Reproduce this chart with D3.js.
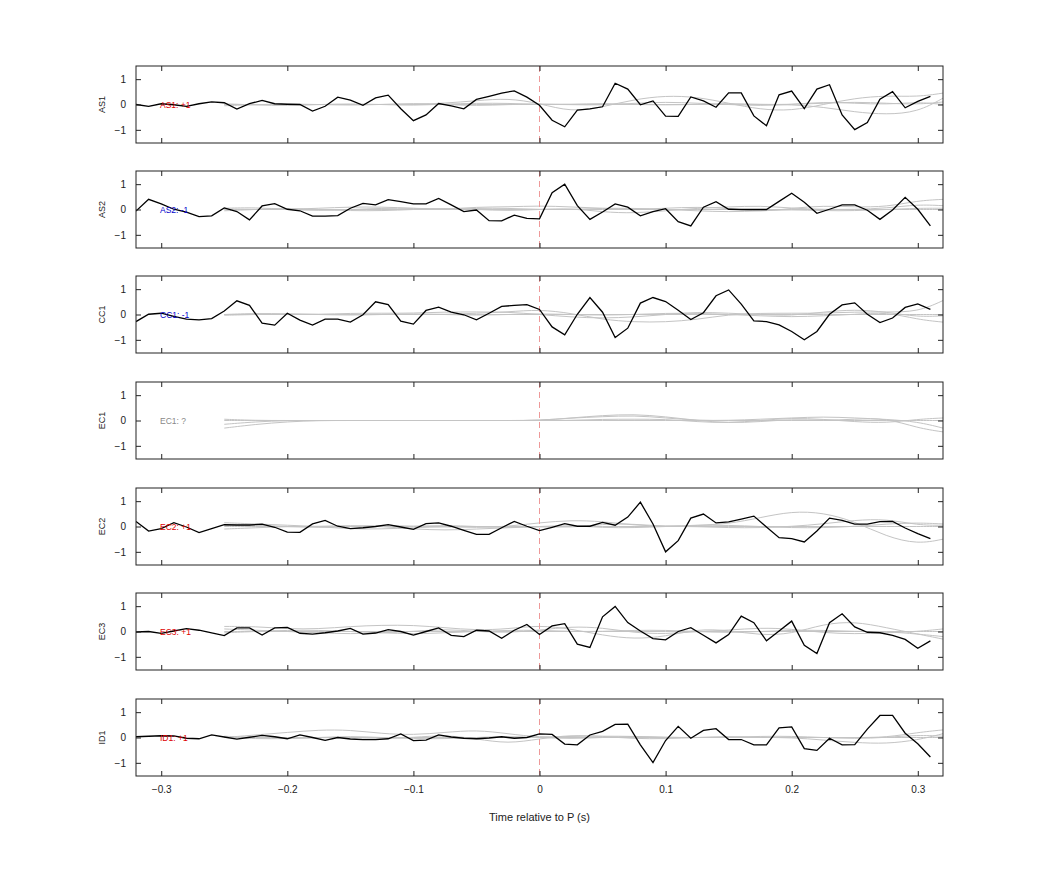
<!DOCTYPE html>
<html><head><meta charset="utf-8">
<script src="https://cdn.jsdelivr.net/npm/d3@7"></script>
<style>body{margin:0;background:#fff}svg{font-family:"Liberation Sans",Arial,sans-serif}</style>
</head><body><svg id="c" width="1042" height="875"></svg>
<script>
const stations = ["AS1","AS2","CC1","EC1","EC2","EC3","ID1"];
const polarity = ["AS1: +1","AS2: -1","CC1: -1","EC1: ?","EC2: +1","EC3: +1","ID1: +1"];
const polColor = ["#d00","#00c","#00c","#888","#d00","#d00","#d00"];
const tStart = -0.32, tStep = 0.01;
const black = [
[0,-0.07,0.03,-0.01,-0.07,0.03,0.1,0.07,-0.18,0.03,0.16,0.03,0.01,0,-0.26,-0.07,0.29,0.17,-0.03,0.26,0.37,-0.17,-0.64,-0.41,0.04,-0.05,-0.17,0.2,0.32,0.45,0.54,0.29,-0.03,-0.62,-0.88,-0.22,-0.17,-0.09,0.84,0.61,-0.01,0.14,-0.46,-0.47,0.3,0.14,-0.11,0.46,0.46,-0.45,-0.84,0.38,0.53,-0.16,0.61,0.78,-0.41,-0.99,-0.71,0.21,0.51,-0.13,0.12,0.32],
[-0.06,0.4,0.22,0.01,-0.1,-0.28,-0.25,0.06,-0.08,-0.41,0.14,0.23,0.01,-0.05,-0.26,-0.26,-0.24,0.05,0.24,0.18,0.39,0.31,0.22,0.22,0.44,0.18,-0.08,-0.02,-0.44,-0.45,-0.22,-0.35,-0.37,0.66,1.0,0.15,-0.39,-0.1,0.22,0.09,-0.25,-0.08,0.03,-0.48,-0.65,0.09,0.31,0.01,0,0,0,0.32,0.64,0.29,-0.15,0.01,0.18,0.18,-0.03,-0.39,-0.02,0.48,0.01,-0.65],
[-0.28,0.01,0.05,-0.07,-0.18,-0.21,-0.16,0.14,0.54,0.36,-0.34,-0.42,0.05,-0.22,-0.42,-0.18,-0.18,-0.3,-0.01,0.5,0.39,-0.26,-0.38,0.16,0.29,0.09,-0.01,-0.21,0.05,0.32,0.36,0.39,0.2,-0.49,-0.8,0.01,0.67,0.09,-0.91,-0.54,0.45,0.67,0.51,0.17,-0.2,0.07,0.74,0.97,0.41,-0.25,-0.28,-0.41,-0.67,-1.0,-0.67,0.01,0.38,0.46,0.01,-0.32,-0.14,0.28,0.42,0.2],
[],
[0.2,-0.18,-0.08,0.15,-0.02,-0.24,-0.08,0.07,0.06,0.06,0.09,-0.03,-0.22,-0.23,0.1,0.24,0.01,-0.08,-0.05,0,0.07,-0.02,-0.11,0.11,0.14,0.01,-0.15,-0.31,-0.31,-0.05,0.2,0.01,-0.16,-0.03,0.11,0.01,0.01,0.16,0.05,0.37,0.96,0.1,-1.0,-0.56,0.33,0.49,0.14,0.18,0.29,0.41,-0.02,-0.44,-0.48,-0.61,-0.18,0.33,0.24,0.09,0.09,0.19,0.2,-0.06,-0.28,-0.48],
[-0.02,0,-0.07,0.02,0.11,0.05,-0.05,-0.16,0.14,0.14,-0.14,0.14,0.16,-0.07,-0.1,-0.05,0.02,0.12,-0.1,-0.06,0.07,0,-0.14,0,0.14,-0.15,-0.2,0.05,0.02,-0.27,0.05,0.28,-0.12,0.22,0.31,-0.5,-0.63,0.58,0.99,0.35,0.02,-0.28,-0.33,0,0.15,-0.15,-0.45,-0.12,0.61,0.35,-0.37,0.02,0.41,-0.54,-0.87,0.35,0.7,0.18,-0.03,-0.05,-0.15,-0.31,-0.66,-0.37],
[0.03,0.05,0.07,0.06,-0.03,-0.05,0.1,0.02,-0.06,0.01,0.08,0.03,-0.05,0.1,0,-0.11,0,-0.06,-0.08,-0.08,-0.05,0.14,-0.12,-0.1,0.1,0.02,-0.03,-0.05,-0.02,0.03,-0.03,0,0.14,0.12,-0.26,-0.29,0.1,0.24,0.52,0.53,-0.29,-0.99,-0.12,0.44,-0.03,0.28,0.35,-0.08,-0.08,-0.29,-0.29,0.38,0.42,-0.44,-0.51,-0.03,-0.29,-0.28,0.33,0.87,0.87,0.17,-0.25,-0.77]
];
const grayT = [-0.25,-0.225,-0.2,-0.175,-0.15,-0.125,-0.1,-0.075,-0.05,-0.025,0,0.025,0.05,0.075,0.1,0.125,0.15,0.175,0.2,0.225,0.25,0.275,0.3,0.32];
const gray = [
 [[0,0,0,0,0,0,0,0.05,0.15,0.25,0.05,-0.3,-0.1,0.2,0.35,0.3,0.05,-0.2,-0.25,0,0.25,0.35,0.3,0.45],
  [0,0,0,0,0,0,0,0,0,0,0,0,0,0,0,0,0,0,0,-0.1,-0.3,-0.4,-0.3,0.25],
  [-0.05,0,0.02,0,-0.03,0,0.05,0,-0.05,0,0.02,0,0.05,0,-0.02,0,0.05,0,0,0.05,0.1,0.05,0,0.1],
  [0.03,-0.02,-0.05,0,0.03,0,-0.04,0.02,0.05,0.05,0,0,-0.03,0.05,0.1,0.05,0,-0.05,0,0.1,0.05,0,0.1,0]],
 [[0.02,0,0,0.05,0.1,0.1,0.05,0,0.1,0.1,0.15,0.1,0.05,0,0.05,0.1,0.05,-0.1,0.05,0.15,0.1,0.1,0.35,0.4],
  [0,0,0,0,0,0,0,0,0,0,0,0,0,0,0,0,0,0,0,0,0,0,0,0],
  [-0.05,0,0.05,0,-0.05,-0.05,0,0.05,0,-0.05,0,0.05,-0.1,-0.15,-0.05,0.05,0.1,0.15,0.05,0,0,0.05,0.2,0.15],
  [0.05,0.08,0,-0.05,0,0.05,0.05,0,0.05,0.05,0,0,0.05,0.05,0,-0.05,-0.1,-0.05,0,-0.05,-0.05,0,0.05,0.05]],
 [[0,0,0,0,0,0,0,0,0.05,0.1,0.2,0.05,-0.2,-0.3,-0.3,-0.2,0,0.05,0.05,0.05,0.1,0.1,0.1,0.55],
  [0,0.05,0.02,0,0.05,0.05,0.05,0.1,0.1,0.1,0,-0.1,-0.15,-0.1,0,0.1,0.05,0,-0.05,0.1,0.2,0.1,-0.1,-0.05],
  [0,0,0,0,0,0,0,0,0,0,0,0,0,0,0,0,0,0,0,0,0,0,0,0],
  [-0.03,0,0.03,0,-0.03,0,0.03,0,-0.03,0,0.03,0,-0.03,0,0.05,0.05,0,-0.05,-0.1,-0.05,0,0.1,-0.2,-0.3]],
 [[-0.3,-0.15,-0.05,0,0,0,0,0,0,0,0,0.1,0.15,0.2,0.1,0,0,0.05,0.1,0.15,0.1,0.05,-0.05,-0.3],
  [0,0,0,0,0,0,0,0,0,0,0,0,0,0,0,0,0,0,0,0,0,0,0,0],
  [-0.15,-0.05,0,0,0,0,0,0,0,0,0,0.1,0.2,0.25,0.15,0,-0.1,-0.05,0.05,0,0.05,0.1,-0.3,-0.45],
  [0.05,0,0,0,0,0,0,0,0,0,0,0,0.05,0.05,0.05,-0.05,-0.1,0,0.1,0.05,-0.05,-0.1,0.05,0.1]],
 [[0.15,0.1,0.05,0,-0.1,-0.1,-0.05,0,-0.05,0,0.15,0.25,0.2,0.05,0,0.05,0.1,0.35,0.6,0.55,0.2,-0.4,-0.7,-0.5],
  [0,0,0,0,0,0,0,0,0,0,0,0,0,0,0,0,0,0,0,0,0,0,0,0],
  [-0.1,-0.05,0,0,0.05,0,-0.1,-0.15,-0.1,-0.05,0,-0.05,0.1,0.1,0,0,-0.05,-0.05,0,0.1,0.25,0.3,0.05,0.05],
  [0.05,0.05,0,-0.05,0,0.05,0,0.05,0,-0.05,0,0.05,-0.05,-0.05,0,0.05,0.05,0,-0.05,-0.05,0,0.1,0.15,0.1]],
 [[0.2,0.2,0.1,0.1,0.2,0.25,0.25,0.15,0.05,0.1,0.25,0.1,-0.15,-0.3,-0.2,0.1,0.05,-0.15,-0.1,0.3,0.4,0.15,-0.1,-0.3],
  [0,0,0,0,0,0,0,0,0,0,0,0,0,0,0,0,0,0,0,0,0,0,0,0],
  [0.1,0.05,0,-0.05,-0.1,-0.05,0,0.1,0,-0.05,0.05,0.2,0.15,-0.05,-0.1,0,0.05,0.15,0.1,-0.05,-0.1,-0.05,0,0.1],
  [-0.05,0,0.05,0.05,0,-0.05,-0.1,-0.05,0,0.05,0.05,0,0,0.05,0.05,0,-0.05,0,0.05,0.05,0,0,-0.1,-0.2]],
 [[0,0.1,0.2,0.3,0.3,0.15,0.1,0.2,0.3,0.15,0,0.05,0.05,0.05,0,0,0,0,0,0,0,0,0.2,0.3],
  [0,0,0,0,0,0,0,0,0,0,0,0,0,0,0,0,0,0,0,0,0,0,0,0],
  [0,-0.05,-0.05,0,0,-0.05,0,0.1,-0.05,-0.25,-0.05,0.1,0.05,-0.05,-0.05,0,0.05,0,0,-0.1,-0.2,-0.25,-0.1,0.15],
  [0.05,0,-0.05,0,0.05,0,-0.05,-0.05,0,0.05,0,-0.05,0,0.05,0,0,0,0.05,0.05,0,-0.05,0,0.1,0.05]]
];
const xTicks = [-0.3,-0.2,-0.1,0,0.1,0.2,0.3];
const yTicks = [-1,0,1];

const svg = d3.select("#c");
const L = 136, R = 943, H = 77;
const tops = [66,171,276,382,488,593,699];
const x = d3.scaleLinear().domain([-0.32,0.32]).range([L,R]);
const line = (yS) => d3.line().x(d => x(d[0])).y(d => yS(d[1]));

stations.forEach((st, i) => {
  const top = tops[i];
  const y = d3.scaleLinear().domain([-1.52,1.52]).range([top+H, top]);
  const g = svg.append("g");
  const clipId = "clip"+i;
  svg.append("clipPath").attr("id", clipId).append("rect").attr("x",L).attr("y",top).attr("width",R-L).attr("height",H);
  const pg = g.append("g").attr("clip-path", `url(#${clipId})`);
  gray[i].forEach(s => {
    pg.append("path").datum(s.map((v,k)=>[grayT[k],v]))
      .attr("d", line(y).curve(d3.curveBasis))
      .attr("fill","none").attr("stroke","#c4c4c4").attr("stroke-width",1);
  });
  pg.append("line").attr("x1",x(0)).attr("x2",x(0)).attr("y1",top).attr("y2",top+H)
    .attr("stroke","#e99").attr("stroke-dasharray","6,4").attr("stroke-width",1);
  if (black[i].length) {
    pg.append("path").datum(black[i].map((v,k)=>[tStart+k*tStep, v]))
      .attr("d", line(y)).attr("fill","none").attr("stroke","#000").attr("stroke-width",1.3);
  }
  g.append("text").attr("x",160).attr("y",y(0)+3).attr("font-size",8.5)
    .attr("fill",polColor[i]).text(polarity[i]);
  const ax = g.append("g").attr("font-size",10);
  ax.append("g").attr("transform",`translate(${L},0)`).call(d3.axisLeft(y).tickValues(yTicks).tickSize(-5).tickPadding(10).tickFormat(d3.format("d")));
  ax.append("g").attr("transform",`translate(${R},0)`).call(d3.axisRight(y).tickValues(yTicks).tickSize(-5).tickFormat(""));
  ax.append("g").attr("transform",`translate(0,${top})`).call(d3.axisTop(x).tickValues(xTicks).tickSize(-5).tickFormat(""));
  ax.append("g").attr("transform",`translate(0,${top+H})`).call(d3.axisBottom(x).tickValues(xTicks).tickSize(-5).tickPadding(10).tickFormat(i===6 ? d3.format("") : ""));
  ax.selectAll(".domain").remove();
  ax.selectAll("text").attr("fill","#222");
  ax.selectAll("line").attr("stroke","#222");
  g.append("rect").attr("x",L).attr("y",top).attr("width",R-L).attr("height",H)
    .attr("fill","none").attr("stroke","#222").attr("stroke-width",1);
  g.append("text").attr("transform",`translate(105,${top+H/2}) rotate(-90)`)
    .attr("text-anchor","middle").attr("font-size",9).attr("fill","#222").text(st);
});
svg.append("text").attr("x",x(0)).attr("y",821).attr("text-anchor","middle")
  .attr("font-size",11).attr("fill","#222").text("Time relative to P (s)");
</script></body></html>
